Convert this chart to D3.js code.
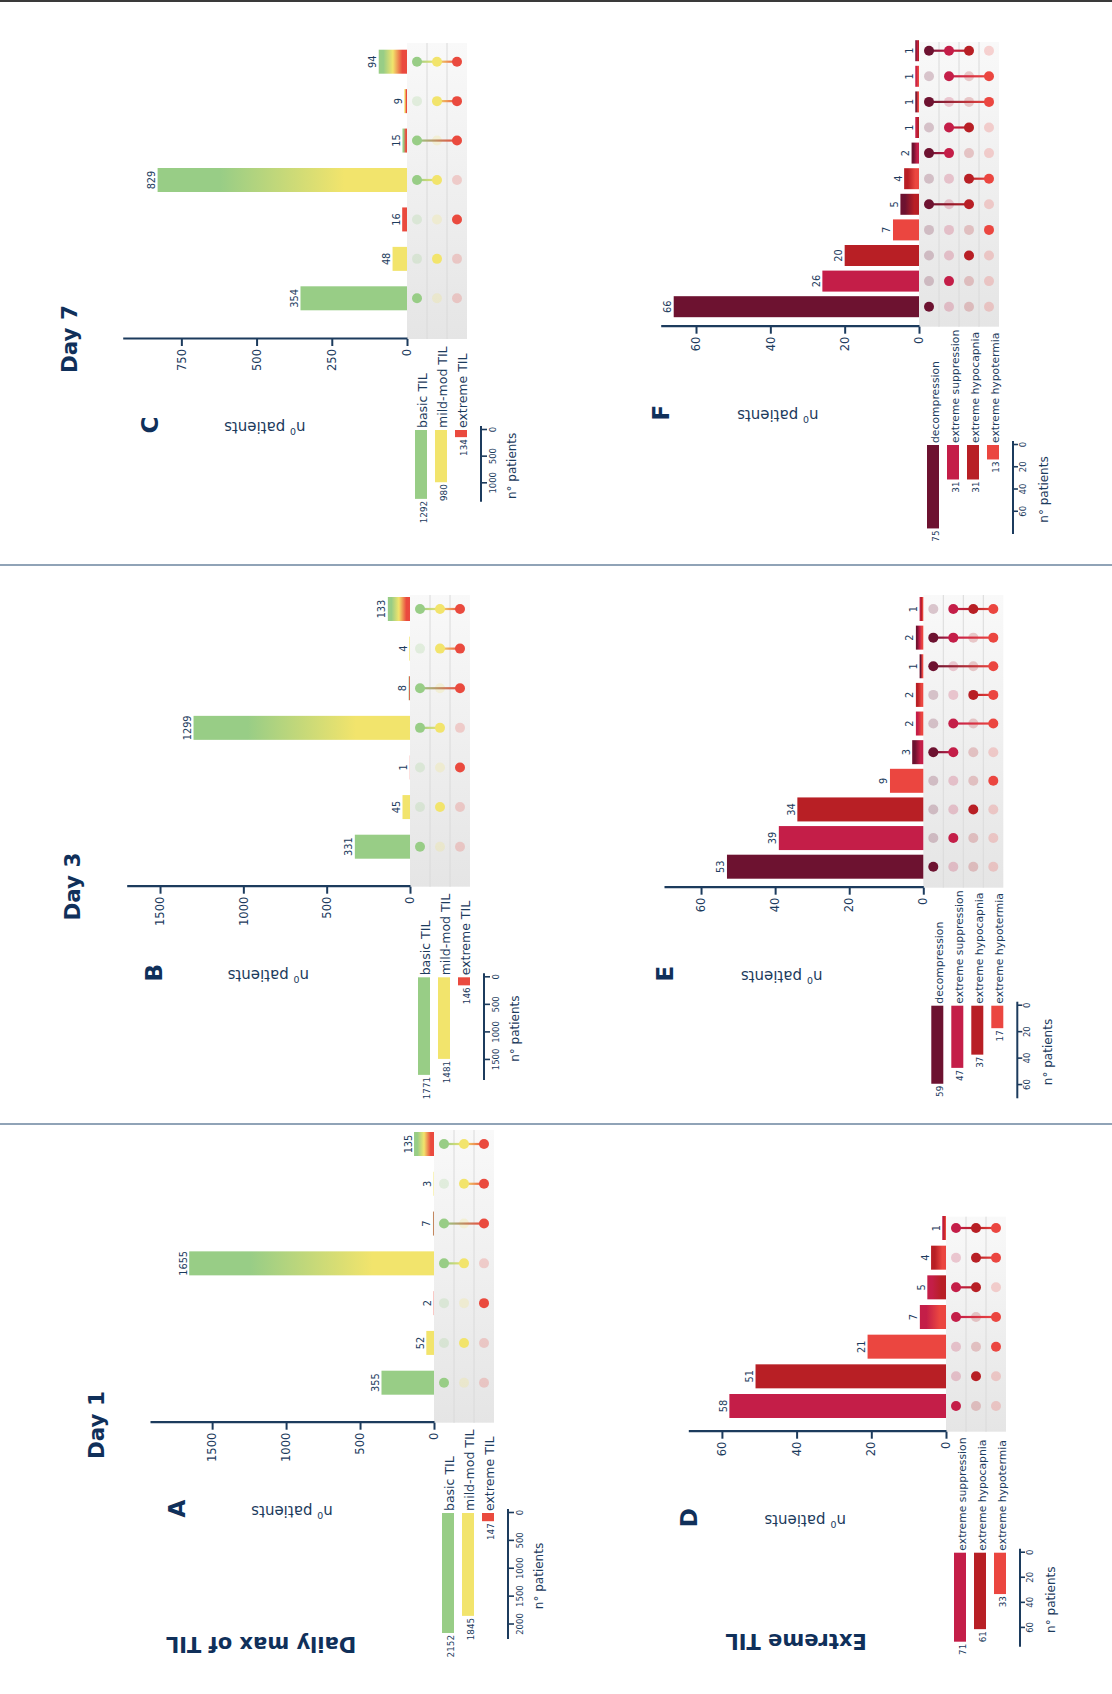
<!DOCTYPE html>
<html>
<head>
<meta charset="utf-8">
<script src="https://cdn.jsdelivr.net/npm/d3@7"></script>
<style>
  body { margin: 0; background: #fff; }
  svg { display: block; }
</style>
</head>
<body>
<svg id="fig" width="1112" height="1694"></svg>
<script>
// ---------- sets and colours ----------
const tilSets = ["basic TIL", "mild-mod TIL", "extreme TIL"];
const tilColors = ["#98cd86", "#f2e46c", "#ea4a3e"];
const ext3Sets = ["extreme suppression", "extreme hypocapnia", "extreme hypotermia"];
const ext3Colors = ["#c41e48", "#b81f25", "#eb4640"];
const ext4Sets = ["decompression", "extreme suppression", "extreme hypocapnia", "extreme hypotermia"];
const ext4Colors = ["#6d1230", "#c41e48", "#b81f25", "#eb4640"];

// ---------- daily max of TIL (combinations as indices into tilSets) ----------
const tilMembers = [[0], [1], [2], [0, 1], [0, 2], [1, 2], [0, 1, 2]];
const day1Counts = [355, 52, 2, 1655, 7, 3, 135];
const day1SetSizes = [2152, 1845, 147];
const day3Counts = [331, 45, 1, 1299, 8, 4, 133];
const day3SetSizes = [1771, 1481, 146];
const day7Counts = [354, 48, 16, 829, 15, 9, 94];
const day7SetSizes = [1292, 980, 134];

// ---------- extreme TIL ----------
const extDay1Members = [[0], [1], [2], [0, 2], [0, 1], [1, 2], [0, 1, 2]];
const extDay1Counts = [58, 51, 21, 7, 5, 4, 1];
const extDay1SetSizes = [71, 61, 33];

const extDay3Members = [[0], [1], [2], [3], [0, 1], [1, 3], [2, 3], [0, 3], [0, 1, 3], [1, 2, 3]];
const extDay3Counts = [53, 39, 34, 9, 3, 2, 2, 1, 2, 1];
const extDay3SetSizes = [59, 47, 37, 17];

const extDay7Members = [[0], [1], [2], [3], [0, 2], [2, 3], [0, 1], [1, 2], [0, 3], [1, 3], [0, 1, 2]];
const extDay7Counts = [66, 26, 20, 7, 5, 4, 2, 1, 1, 1, 1];
const extDay7SetSizes = [75, 31, 31, 13];

// ---------- tick values ----------
const tilTicksWide = [0, 500, 1000, 1500];
const tilTicksDay7 = [0, 250, 500, 750];
const extTicks = [0, 20, 40, 60];
const setTicksDay1 = [0, 500, 1000, 1500, 2000];
const setTicksDay3 = [0, 500, 1000, 1500];
const setTicksDay7 = [0, 500, 1000];
const setTicksExt = [0, 20, 40, 60];

const dayLabels = ["Day 1", "Day 3", "Day 7"];
const rowLabels = ["Daily max of TIL", "Extreme TIL"];

// ---------- drawing ----------
const W = 1112, H = 1694;
const FONT = "'DejaVu Sans', Verdana, sans-serif";
const NAVY = "#1c3b5d";
const HEAD = "#10305a";
const ROW = 20;
const plain = d3.format("d");

const svg = d3.select("#fig");
const defs = svg.append("defs");

// matrix background shading
const mg = defs.append("linearGradient").attr("id", "matBg")
  .attr("x1", 0).attr("y1", 0).attr("x2", 1).attr("y2", 0);
mg.append("stop").attr("offset", 0).attr("stop-color", "#e5e5e5");
mg.append("stop").attr("offset", 1).attr("stop-color", "#f9f9f9");

// frame lines of the page
svg.append("rect").attr("x", 0).attr("y", 0).attr("width", W).attr("height", 2).attr("fill", "#3a3a3a");
[565, 1124].forEach(yy => {
  svg.append("line").attr("x1", 0).attr("x2", W).attr("y1", yy).attr("y2", yy)
    .attr("stroke", "#90a3b7").attr("stroke-width", 2.2);
});

// the figure is laid out in landscape and turned a quarter turn
const g = svg.append("g").attr("transform", `translate(0,${H}) rotate(-90)`)
  .attr("font-family", FONT);

function addGradient(id, colors, offsets) {
  const lg = defs.append("linearGradient").attr("id", id)
    .attr("x1", 0).attr("y1", 0).attr("x2", 0).attr("y2", 1);
  colors.forEach((c, k) => {
    lg.append("stop").attr("offset", offsets[k]).attr("stop-color", c);
  });
  return `url(#${id})`;
}

function drawPanel(cfg, sets, colors, members, counts, setSizes) {
  const n = counts.length, ns = sets.length;
  const p = g.append("g");
  const x = d3.scalePoint().domain(d3.range(n)).range([cfg.c0, cfg.c1]);
  const y = d3.scaleLinear().domain([0, cfg.yMax]).range([cfg.base, cfg.top]);
  const rowTop = j => cfg.base + ROW * j;
  const rowC = j => rowTop(j) + ROW / 2;

  // matrix background rows
  d3.range(ns).forEach(j => {
    p.append("rect").attr("x", cfg.ax).attr("y", rowTop(j))
      .attr("width", cfg.grayEnd - cfg.ax).attr("height", ROW).attr("fill", "url(#matBg)");
  });
  d3.range(1, ns).forEach(j => {
    p.append("line").attr("x1", cfg.ax).attr("x2", cfg.grayEnd)
      .attr("y1", rowTop(j)).attr("y2", rowTop(j))
      .attr("stroke", "#dadada").attr("stroke-width", 1);
  });

  // intersection bars
  counts.forEach((v, i) => {
    const m = members[i];
    let fill = colors[m[0]];
    if (m.length > 1) {
      const cs = [], os = [];
      m.forEach((s, k) => {
        cs.push(colors[s]); os.push(k / m.length + 0.5 / m.length);
      });
      fill = addGradient(`bar-${cfg.id}-${i}`,
        [colors[m[0]], ...cs, colors[m[m.length - 1]]], [0, ...os, 1]);
    }
    p.append("rect")
      .attr("x", x(i) - cfg.bw / 2).attr("y", y(v))
      .attr("width", cfg.bw).attr("height", cfg.base - y(v))
      .attr("fill", fill);
    p.append("text").attr("x", x(i)).attr("y", y(v) - 2.5)
      .attr("text-anchor", "middle").attr("font-size", 9.8).attr("fill", NAVY)
      .text(v);
  });

  // membership dots and connectors
  counts.forEach((v, i) => {
    const m = members[i];
    d3.range(ns).filter(j => !m.includes(j)).forEach(j => {
      p.append("circle").attr("cx", x(i)).attr("cy", rowC(j)).attr("r", 5)
        .attr("fill", colors[j]).attr("fill-opacity", 0.22);
    });
    if (m.length > 1) {
      const a = d3.min(m), b = d3.max(m);
      const fill = addGradient(`lnk-${cfg.id}-${i}`, m.map(s => colors[s]),
        m.map(s => (rowC(s) - rowC(a)) / (rowC(b) - rowC(a))));
      p.append("rect").attr("x", x(i) - 1.1).attr("y", rowC(a))
        .attr("width", 2.2).attr("height", rowC(b) - rowC(a)).attr("fill", fill);
    }
    m.forEach(j => {
      p.append("circle").attr("cx", x(i)).attr("cy", rowC(j)).attr("r", 5)
        .attr("fill", colors[j]);
    });
  });

  // count axis
  const ax = p.append("g").attr("transform", `translate(${cfg.ax},0)`)
    .call(d3.axisLeft(y).tickValues(cfg.ticks).tickFormat(plain)
      .tickSize(7).tickPadding(3).tickSizeOuter(0));
  ax.attr("color", NAVY).attr("font-family", FONT).attr("font-size", 11.5);
  ax.select(".domain").attr("stroke-width", 2.2);
  ax.selectAll(".tick line").attr("stroke-width", 2);

  // axis title with superscript
  const tt = p.append("text")
    .attr("transform", `translate(${cfg.ax - 83},${(cfg.base + cfg.top) / 2 + cfg.titleDy}) rotate(-90)`)
    .attr("text-anchor", "middle").attr("font-size", 15).attr("fill", NAVY);
  tt.append("tspan").text("n");
  tt.append("tspan").attr("font-size", 9.5).attr("dy", -6).text("0");
  tt.append("tspan").attr("dy", 6).text(" patients");

  // panel letter
  p.append("text").attr("x", cfg.ax - 86).attr("y", cfg.top + cfg.letterDy)
    .attr("text-anchor", "middle").attr("font-size", 23).attr("font-weight", "bold")
    .attr("fill", HEAD).text(cfg.letter);

  // set sizes
  const sx = d3.scaleLinear().domain([0, cfg.setMax]).range([cfg.sb, cfg.sb - cfg.sLen]);
  setSizes.forEach((v, j) => {
    p.append("rect").attr("x", sx(v)).attr("y", rowTop(j) + 8)
      .attr("width", cfg.sb - sx(v)).attr("height", 12).attr("fill", colors[j]);
    p.append("text").attr("x", sx(v) - 2).attr("y", rowTop(j) + 19.8)
      .attr("text-anchor", "end").attr("font-size", 8.8).attr("fill", NAVY).text(v);
    p.append("text").attr("x", cfg.sb + 2).attr("y", rowTop(j) + 19.5)
      .attr("font-size", cfg.labelSize).attr("fill", NAVY).text(sets[j]);
  });
  const sy = cfg.base + ROW * ns + 14;
  const sa = p.append("g").attr("transform", `translate(0,${sy})`)
    .call(d3.axisBottom(sx).tickValues(cfg.setTicks).tickFormat(plain)
      .tickSize(cfg.stk).tickPadding(cfg.stp).tickSizeOuter(0));
  sa.attr("color", NAVY).attr("font-family", FONT).attr("font-size", 8.5);
  sa.select(".domain").remove();
  sa.selectAll(".tick line").attr("stroke-width", 1.6);
  p.append("line").attr("x1", cfg.sb + 4).attr("x2", cfg.sb - cfg.sLen)
    .attr("y1", sy).attr("y2", sy).attr("stroke", NAVY).attr("stroke-width", 2);
  p.append("text").attr("x", cfg.sb - cfg.sLen / 2).attr("y", sy + 35)
    .attr("text-anchor", "middle").attr("font-size", 12).attr("fill", NAVY).text("n\u00b0 patients");
}

const tilLayout = { bw: 24, titleDy: 0, letterDy: 35, labelSize: 12.5, stk: 6, stp: 3 };
const extLayout = { bw: 24, titleDy: -12, letterDy: 8.5, labelSize: 10.8, stk: 5, stp: 1.5 };

drawPanel({ ...tilLayout, id: "A", letter: "A", ax: 271.3, base: 434, top: 150, yMax: 1920, ticks: tilTicksWide,
  c0: 311.3, c1: 550, grayEnd: 564, sb: 181, sLen: 126, setMax: 2260, setTicks: setTicksDay1 },
  tilSets, tilColors, tilMembers, day1Counts, day1SetSizes);
drawPanel({ ...tilLayout, id: "B", letter: "B", ax: 807.3, base: 410, top: 126.7, yMax: 1700, ticks: tilTicksWide,
  c0: 847.3, c1: 1085, grayEnd: 1099, sb: 716.7, sLen: 102.7, setMax: 1864, setTicks: setTicksDay3 },
  tilSets, tilColors, tilMembers, day3Counts, day3SetSizes);
drawPanel({ ...tilLayout, id: "C", letter: "C", ax: 1355, base: 407, top: 122.7, yMax: 945, ticks: tilTicksDay7,
  c0: 1395.7, c1: 1632.3, grayEnd: 1651, sb: 1264, sLen: 71.7, setMax: 1345, setTicks: setTicksDay7 },
  tilSets, tilColors, tilMembers, day7Counts, day7SetSizes);
drawPanel({ ...extLayout, id: "D", letter: "D", ax: 262.3, base: 946, top: 688.3, yMax: 69, ticks: extTicks,
  c0: 288, c1: 466, grayEnd: 477.3, sb: 141.3, sLen: 94, setMax: 75, setTicks: setTicksExt },
  ext3Sets, ext3Colors, extDay1Members, extDay1Counts, extDay1SetSizes);
drawPanel({ ...extLayout, id: "E", letter: "E", ax: 806.3, base: 923.3, top: 664, yMax: 70, ticks: extTicks,
  c0: 827.3, c1: 1085, grayEnd: 1099, sb: 688.3, sLen: 92.6, setMax: 70, setTicks: setTicksExt },
  ext4Sets, ext4Colors, extDay3Members, extDay3Counts, extDay3SetSizes);
drawPanel({ ...extLayout, id: "F", letter: "F", bw: 21, ax: 1367.3, base: 919, top: 660.7, yMax: 69.5, ticks: extTicks,
  c0: 1387.3, c1: 1643.3, grayEnd: 1652, sb: 1249, sLen: 89, setMax: 80, setTicks: setTicksExt },
  ext4Sets, ext4Colors, extDay7Members, extDay7Counts, extDay7SetSizes);

// column headers
const dayPos = [[269, 104], [807.5, 80], [1355, 77]];
dayLabels.forEach((t, k) => {
  g.append("text").attr("x", dayPos[k][0]).attr("y", dayPos[k][1])
    .attr("text-anchor", "middle").attr("font-size", 21.5).attr("font-weight", "bold")
    .attr("fill", HEAD).text(t);
});

// row headers
const rowPos = [[57, 261], [60.5, 796]];
rowLabels.forEach((t, k) => {
  g.append("text").attr("transform", `translate(${rowPos[k][0]},${rowPos[k][1]}) rotate(-90)`)
    .attr("text-anchor", "middle").attr("font-size", 21).attr("font-weight", "bold")
    .attr("fill", HEAD).text(t);
});
</script>
</body>
</html>
